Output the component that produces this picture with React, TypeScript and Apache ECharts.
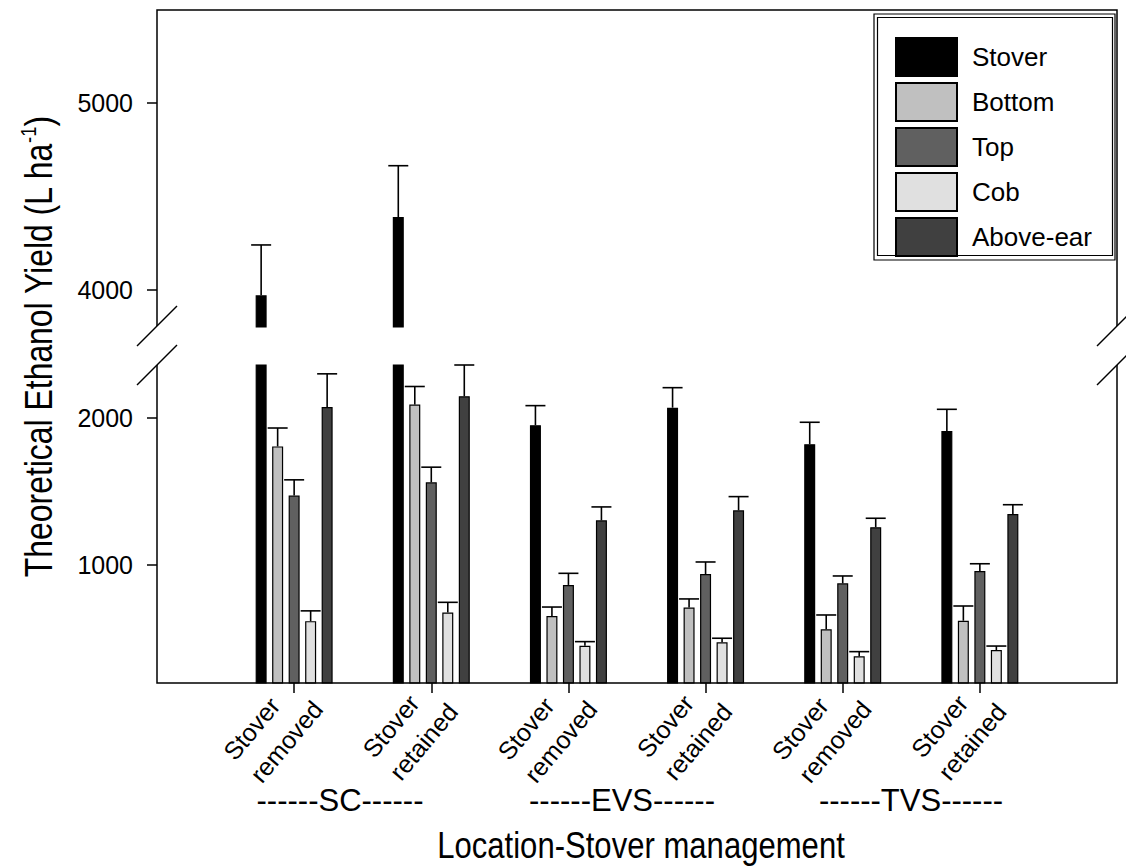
import React, { useEffect, useRef } from "react";
import * as echarts from "echarts";

// ---------- data ----------
const groupLabels = ["Stover\nremoved", "Stover\nretained", "Stover\nremoved", "Stover\nretained", "Stover\nremoved", "Stover\nretained"];
const locations = ["------SC------", "------EVS------", "------TVS------"];
const seriesNames = ["Stover", "Bottom", "Top", "Cob", "Above-ear"];
const stover = [3970, 4390, 1951, 2070, 1822, 1912];
const stoverErr = [270, 275, 133, 136, 149, 147];
const bottom = [1807, 2091, 655, 712, 565, 623];
const bottomErr = [125, 123, 61, 59, 97, 100];
const top = [1473, 1563, 866, 940, 877, 961];
const topErr = [107, 103, 79, 82, 50, 49];
const cob = [620, 679, 453, 476, 381, 424];
const cobErr = [70, 69, 28, 28, 32, 27];
const aboveEar = [2074, 2148, 1305, 1373, 1258, 1348];
const aboveEarErr = [226, 212, 91, 93, 61, 63];
const lowerTicks = [1000, 2000];
const upperTicks = [4000, 5000];
const lowerRange = [200, 2360];
const upperRange = [3800, 5500];
const colors = ["#000000", "#c0c0c0", "#606060", "#e0e0e0", "#404040"];

const FONT = "'Liberation Sans', Arial, Helvetica, sans-serif";
const BAR_W = 11;
const BAR_GAP = 5.5;
const STEP = BAR_W + BAR_GAP;
const CAP = 20;

export default function App() {
  const ref = useRef<HTMLDivElement>(null);
  useEffect(() => {
    if (!ref.current) return;
    const chart = echarts.init(ref.current, null, { renderer: "svg" });
    const values = [stover, bottom, top, cob, aboveEar];
    const errs = [stoverErr, bottomErr, topErr, cobErr, aboveEarErr];
    const cats = ["", ...groupLabels, ""];

    const barSeries: any[] = [];
    [0, 1].forEach((gi) => {
      values.forEach((vals, si) => {
        const data = vals.map((v) => {
          if (gi === 0) return v > upperRange[0] ? v : "-";
          return v;
        });
        barSeries.push({
          type: "bar",
          name: seriesNames[si],
          xAxisIndex: gi,
          yAxisIndex: gi,
          data: ["-", ...data, "-"],
          barWidth: BAR_W,
          barGap: (BAR_GAP / BAR_W) * 100 + "%",
          clip: true,
          itemStyle: { color: colors[si], borderColor: "#000", borderWidth: 1.2 },
          emphasis: { disabled: true },
        });
      });
    });

    const errData = (gi: number) => {
      const out: number[][] = [];
      values.forEach((vals, si) => {
        vals.forEach((v, ci) => {
          if (gi === 0 && v > upperRange[0]) out.push([ci + 1, v, errs[si][ci], si]);
          if (gi === 1 && v < lowerRange[1]) out.push([ci + 1, v, errs[si][ci], si]);
        });
      });
      return out;
    };

    const renderErr = (params: any, api: any) => {
      const c = api.value(0);
      const v = api.value(1);
      const e = api.value(2);
      const s = api.value(3);
      const p0 = api.coord([c, v]);
      const p1 = api.coord([c, v + e]);
      const x = p0[0] + (s - 2) * STEP;
      const st = { stroke: "#000", lineWidth: 1.6 };
      return {
        type: "group",
        children: [
          { type: "line", shape: { x1: x, y1: p0[1], x2: x, y2: p1[1] }, style: st },
          { type: "line", shape: { x1: x - CAP / 2, y1: p1[1], x2: x + CAP / 2, y2: p1[1] }, style: st },
        ],
      };
    };

    const errSeries = [0, 1].map((gi) => ({
      type: "custom",
      name: "err" + gi,
      xAxisIndex: gi,
      yAxisIndex: gi,
      data: errData(gi),
      encode: { x: 0, y: 1 },
      renderItem: renderErr,
      z: 5,
    }));

    const xAxisBase = {
      type: "category",
      data: cats,
      boundaryGap: false,
      axisLine: { show: false },
      splitLine: { show: false },
    };

    const lineStyle = { stroke: "#000", lineWidth: 1.5, fill: "none" };
    const FL = 157, FR = 1117, FT = 10, FB = 683, BU = 326, BL = 365;
    const yLabel = { fontSize: 25, fontFamily: FONT, color: "#000", margin: 24, formatter: (v: number) => String(v) };

    const option: any = {
      animation: false,
      backgroundColor: "#fff",
      grid: [
        { left: FL, width: FR - FL, top: FT, height: BU + 1 - FT },
        { left: FL, width: FR - FL, top: BL, height: FB - BL },
      ],
      xAxis: [
        { ...xAxisBase, gridIndex: 0, axisTick: { show: false }, axisLabel: { show: false } },
        {
          ...xAxisBase,
          gridIndex: 1,
          axisTick: {
            show: true,
            length: 10,
            interval: (i: number) => i >= 1 && i <= 6,
            lineStyle: { color: "#000", width: 1.5 },
          },
          axisLabel: {
            show: true,
            interval: 0,
            rotate: 50,
            align: "center",
            verticalAlign: "middle",
            margin: 22,
            padding: [0, 66, 0, 0],
            formatter: (val: string) =>
              val ? val.split("\n").map((s) => "{a|" + s + "}").join("\n") : "",
            rich: {
              a: { fontSize: 25, fontFamily: FONT, color: "#000", align: "left", lineHeight: 35 },
            },
          },
        },
      ],
      yAxis: [
        {
          type: "value",
          gridIndex: 0,
          min: upperRange[0],
          max: upperRange[1],
          axisLine: { show: false },
          splitLine: { show: false },
          axisTick: { show: true, length: 10, customValues: upperTicks, lineStyle: { color: "#000", width: 1.5 } },
          axisLabel: { customValues: upperTicks, ...yLabel },
        },
        {
          type: "value",
          gridIndex: 1,
          min: lowerRange[0],
          max: lowerRange[1],
          axisLine: { show: false },
          splitLine: { show: false },
          axisTick: { show: true, length: 10, customValues: lowerTicks, lineStyle: { color: "#000", width: 1.5 } },
          axisLabel: { customValues: lowerTicks, ...yLabel },
        },
      ],
      legend: {
        data: seriesNames,
        orient: "vertical",
        left: 895,
        top: 37,
        padding: 0,
        itemWidth: 61,
        itemHeight: 38,
        itemGap: 5,
        icon: "rect",
        selectedMode: false,
        textStyle: { fontSize: 26, fontFamily: FONT, color: "#000", padding: [0, 0, 0, 10] },
      },
      graphic: [
        { type: "polyline", shape: { points: [[FL, BU], [FL, FT], [FR, FT], [FR, BU]] }, style: lineStyle, z: 10 },
        { type: "polyline", shape: { points: [[FL, BL], [FL, FB], [FR, FB], [FR, BL]] }, style: lineStyle, z: 10 },
        { type: "line", shape: { x1: FL - 20, y1: BU + 20, x2: FL + 20, y2: BU - 20 }, style: lineStyle, z: 10 },
        { type: "line", shape: { x1: FL - 20, y1: BL + 20, x2: FL + 20, y2: BL - 20 }, style: lineStyle, z: 10 },
        { type: "line", shape: { x1: FR - 20, y1: BU + 20, x2: FR + 20, y2: BU - 20 }, style: lineStyle, z: 10 },
        { type: "line", shape: { x1: FR - 20, y1: BL + 20, x2: FR + 20, y2: BL - 20 }, style: lineStyle, z: 10 },
        { type: "rect", shape: { x: 874, y: 14, width: 241, height: 246 }, style: { stroke: "#000", lineWidth: 1.2, fill: "none" }, z: 10 },
        { type: "rect", shape: { x: 877.5, y: 17.5, width: 235, height: 238 }, style: { stroke: "#000", lineWidth: 1.2, fill: "none" }, z: 10 },
        {
          type: "text",
          x: 38,
          y: 347,
          rotation: Math.PI / 2,
          scaleX: 0.84,
          style: {
            text: "{m|Theoretical Ethanol Yield (L ha}{s|-1}{m|)}",
            align: "center",
            verticalAlign: "middle",
            fill: "#000",
            rich: {
              m: { fontSize: 38, fontFamily: FONT, fill: "#000", lineHeight: 42 },
              s: { fontSize: 22, fontFamily: FONT, fill: "#000", verticalAlign: "top", lineHeight: 42 },
            },
          },
        },
        ...locations.map((t, i) => ({
          type: "text",
          x: [340, 622, 911][i],
          y: 800,
          style: { text: t, fontSize: 31, fontFamily: FONT, fill: "#000", align: "center", verticalAlign: "middle" },
        })),
        {
          type: "text",
          x: 641,
          y: 845,
          scaleX: 0.84,
          style: { text: "Location-Stover management", fontSize: 37, fontFamily: FONT, fill: "#000", align: "center", verticalAlign: "middle" },
        },
      ],
      series: [...barSeries, ...errSeries],
    };
    chart.setOption(option);
    return () => chart.dispose();
  }, []);
  return <div ref={ref} style={{ position: "absolute", left: 0, top: 0, width: 1126, height: 867 }} />;
}
